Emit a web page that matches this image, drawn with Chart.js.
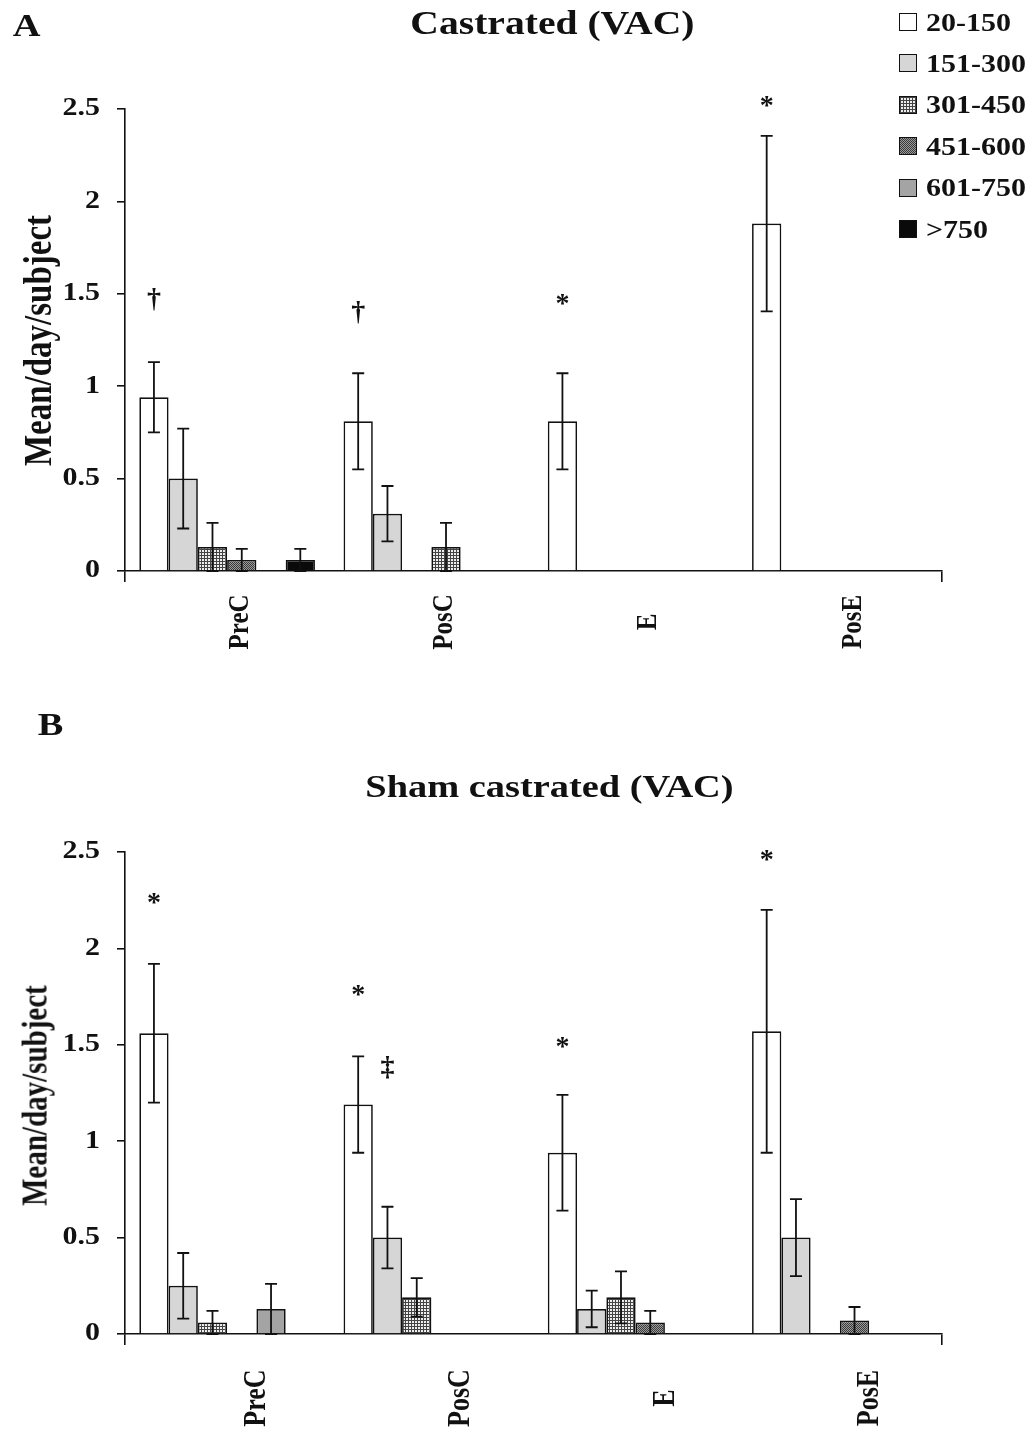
<!DOCTYPE html>
<html>
<head>
<meta charset="utf-8">
<script src="https://cdn.jsdelivr.net/npm/chart.js@4.4.1/dist/chart.umd.min.js"></script>
<style>
  body { margin: 0; background: #fff; }
  #page { position: relative; width: 1033px; height: 1433px; overflow: hidden;
          font-family: "Liberation Serif", "Times New Roman", serif; font-weight: bold; color: #111; }
  .txt { position: absolute; white-space: nowrap; line-height: 1; }
  .sw { position: absolute; width: 16px; height: 16px; border: 1.5px solid #111; }
  canvas { position: absolute; left: 0; }
</style>
</head>
<body>
<div id="page">
  <canvas id="chartA" width="1033" height="690" style="top:0"></canvas>
  <canvas id="chartB" width="1033" height="743" style="top:690px"></canvas>
</div>
<script>
const groups = ['PreC', 'PosC', 'E', 'PosE'];
const bins = ['20-150', '151-300', '301-450', '451-600', '601-750', '>750'];
const yTicks = [0, 0.5, 1, 1.5, 2, 2.5];
const yTickLabels = ['0', '0.5', '1', '1.5', '2', '2.5'];

// A - castrated, one row per bin
const castMean = [
  [0.94, 0.81, 0.81, 1.88],
  [0.50, 0.31, 0, 0],
  [0.13, 0, 0, 0],
  [0.06, 0.13, 0, 0],
  [0, 0, 0, 0],
  [0.06, 0, 0, 0]
];
const castSem = [
  [0.19, 0.26, 0.26, 0.475],
  [0.27, 0.15, 0, 0],
  [0.13, 0, 0, 0],
  [0.06, 0.13, 0, 0],
  [0, 0, 0, 0],
  [0.06, 0, 0, 0]
];
const castMarks = [
  ['PreC', '20-150', '†', 1.47],
  ['PosC', '20-150', '†', 1.40],
  ['E', '20-150', '*', 1.47],
  ['PosE', '20-150', '*', 2.54]
];

// B - sham castrated
const shamMean = [
  [1.56, 1.19, 0.94, 1.57],
  [0.25, 0.50, 0.13, 0.50],
  [0.06, 0.19, 0.19, 0],
  [0, 0, 0.06, 0.07],
  [0.13, 0, 0, 0],
  [0, 0, 0, 0]
];
const shamSem = [
  [0.36, 0.25, 0.30, 0.63],
  [0.17, 0.16, 0.095, 0.20],
  [0.06, 0.10, 0.135, 0],
  [0, 0, 0.06, 0.07],
  [0.13, 0, 0, 0],
  [0, 0, 0, 0]
];
const shamMarks = [
  ['PreC', '20-150', '*', 2.26],
  ['PosC', '20-150', '*', 1.78],
  ['PosC', '151-300', '‡', 1.38],
  ['E', '20-150', '*', 1.51],
  ['PosE', '20-150', '*', 2.48]
];

const SX = 1.2;   // the scan is stretched sideways
const FONT = '"Liberation Serif", "Times New Roman", serif';
const page = document.getElementById('page');

function makeTile(size, draw){
  const c = document.createElement('canvas');
  c.width = c.height = size;
  draw(c.getContext('2d'));
  return c;
}
const gridTile = makeTile(3, g => {
  g.fillStyle = '#eeeeee'; g.fillRect(0, 0, 3, 3);
  g.fillStyle = '#444'; g.fillRect(0, 0, 3, 1); g.fillRect(0, 0, 1, 3);
});
const dotTile = makeTile(2, g => {
  g.fillStyle = '#9a9a9a'; g.fillRect(0, 0, 2, 2);
  g.fillStyle = '#3a3a3a'; g.fillRect(0, 0, 1, 1); g.fillRect(1, 1, 1, 1);
});

function fillsFor(canvas){
  const ctx = canvas.getContext('2d');
  return ['#ffffff', '#d6d6d6', ctx.createPattern(gridTile, 'repeat'),
          ctx.createPattern(dotTile, 'repeat'), '#a4a4a4', '#0a0a0a'];
}

function extrasPlugin(marks, xOff, labelY, xFont){
  return {
    id: 'extras',
    afterDatasetsDraw(chart){
      const ctx = chart.ctx, ys = chart.scales.y;
      ctx.save();
      ctx.strokeStyle = '#111';
      ctx.lineWidth = 1.8;
      chart.data.datasets.forEach((ds, i) => {
        chart.getDatasetMeta(i).data.forEach((bar, j) => {
          const e = ds.errors[j];
          if (!e) return;
          const top = ys.getPixelForValue(ds.data[j] + e);
          const bot = ys.getPixelForValue(Math.max(0, ds.data[j] - e));
          ctx.beginPath();
          ctx.moveTo(bar.x, top); ctx.lineTo(bar.x, bot);
          ctx.moveTo(bar.x - 6, top); ctx.lineTo(bar.x + 6, top);
          ctx.moveTo(bar.x - 6, bot); ctx.lineTo(bar.x + 6, bot);
          ctx.stroke();
        });
      });
      // significance marks
      ctx.fillStyle = '#111';
      ctx.font = 'bold 28px ' + FONT;
      ctx.textAlign = 'center';
      ctx.textBaseline = 'alphabetic';
      marks.forEach(([g, b, sym, v]) => {
        const bar = chart.getDatasetMeta(bins.indexOf(b)).data[groups.indexOf(g)];
        const m = ctx.measureText(sym);
        const py = ys.getPixelForValue(v) + (m.actualBoundingBoxAscent - m.actualBoundingBoxDescent) / 2;
        ctx.fillText(sym, bar.x, py);
      });
      ctx.restore();
    },
    afterDraw(chart){
      const ctx = chart.ctx, xs = chart.scales.x, ys = chart.scales.y;
      ctx.save();
      ctx.fillStyle = '#111';
      ctx.font = 'bold 25px ' + FONT;
      ctx.textAlign = 'right';
      ctx.textBaseline = 'middle';
      ys.ticks.forEach((t, i) => {
        ctx.save();
        ctx.translate(ys.right - 25, ys.getPixelForValue(t.value));
        ctx.scale(SX, 1);
        ctx.fillText(yTickLabels[i], 0, 0);
        ctx.restore();
      });
      ctx.font = 'bold ' + xFont + 'px ' + FONT;
      ctx.textAlign = 'center';
      chart.data.labels.forEach((lab, i) => {
        ctx.save();
        ctx.translate(xs.getPixelForTick(i) + xOff, labelY);
        ctx.rotate(-Math.PI / 2);
        ctx.scale(1, SX);
        ctx.fillText(lab, 0, 0);
        ctx.restore();
      });
      ctx.restore();
    }
  };
}

function makeChart(id, means, sems, marks, layout){
  const canvas = document.getElementById(id);
  const fills = fillsFor(canvas);
  const datasets = bins.map((b, i) => ({
    label: b,
    data: means[i],
    errors: sems[i],
    backgroundColor: fills[i],
    borderColor: '#111',
    borderWidth: 1.7
  }));
  if (layout.fix) layout.fix(datasets, fills);
  return new Chart(canvas, {
    type: 'bar',
    data: { labels: groups, datasets },
    options: {
      responsive: false,
      animation: false,
      events: [],
      layout: { padding: { top: layout.top, right: 91, left: 0, bottom: 0 } },
      datasets: { bar: { categoryPercentage: 0.86, barPercentage: 1.0 } },
      plugins: { legend: { display: false }, tooltip: { enabled: false } },
      scales: {
        x: {
          ticks: { display: false },
          grid: { offset: true, drawOnChartArea: false, tickLength: 11, lineWidth: 1.6,
                  color: c => (c.index === 0 || c.index === undefined) ? '#111' : 'rgba(0,0,0,0)' },
          border: { color: '#111', width: 1.6 },
          afterFit: s => { s.height = layout.bottom; }
        },
        y: {
          min: 0, max: 2.5,
          afterBuildTicks: s => { s.ticks = yTicks.map(v => ({ value: v })); },
          ticks: { display: false },
          grid: { drawOnChartArea: false, tickLength: 8, color: '#111', lineWidth: 1.6 },
          border: { color: '#111', width: 1.6 },
          afterFit: s => { s.width = 125; }
        }
      }
    },
    plugins: [extrasPlugin(marks, layout.xOff, layout.labelY, layout.xFont)]
  });
}

makeChart('chartA', castMean, castSem, castMarks, {
  top: 109, bottom: 119, xOff: 13, labelY: 622, xFont: 25,
  // the PosC bar of 451-600 is printed with the grid fill in the original
  fix: (ds, fills) => { ds[3].backgroundColor = [fills[3], fills[2], fills[3], fills[3]]; }
});
makeChart('chartB', shamMean, shamSem, shamMarks, {
  top: 162, bottom: 99, xOff: 30, labelY: 708, xFont: 26
});

// html text: titles, panel letters, axis titles, legend
function addText(str, cx, cy, size, rotated){
  const d = document.createElement('div');
  d.className = 'txt';
  d.textContent = str;
  d.style.fontSize = size + 'px';
  page.appendChild(d);
  d.style.left = (cx - d.offsetWidth / 2) + 'px';
  d.style.top = (cy - d.offsetHeight / 2) + 'px';
  d.style.transform = rotated ? 'rotate(-90deg) scale(1,' + SX + ')' : 'scaleX(' + SX + ')';
}
addText('A', 26, 25, 32);
addText('Castrated (VAC)', 552, 23, 33);
addText('Mean/day/subject', 38, 340, 33, true);
addText('B', 50, 724, 32);
addText('Sham castrated (VAC)', 549, 786, 32);
addText('Mean/day/subject', 35, 1095, 29, true);

const legendFills = fillsFor(document.createElement('canvas'));
const tiles = [null, null, gridTile, dotTile, null, null];
bins.forEach((b, i) => {
  const cy = 22 + i * 41.4;
  const sw = document.createElement('div');
  sw.className = 'sw';
  sw.style.left = '899px';
  sw.style.top = (cy - 9) + 'px';
  if (tiles[i]) sw.style.backgroundImage = 'url(' + tiles[i].toDataURL() + ')';
  else sw.style.background = legendFills[i];
  page.appendChild(sw);
  const t = document.createElement('div');
  t.className = 'txt';
  t.textContent = b;
  t.style.fontSize = '25px';
  page.appendChild(t);
  t.style.left = '926px';
  t.style.top = (cy - t.offsetHeight / 2) + 'px';
  t.style.transformOrigin = 'left center';
  t.style.transform = 'scaleX(' + SX + ')';
});
</script>
</body>
</html>
